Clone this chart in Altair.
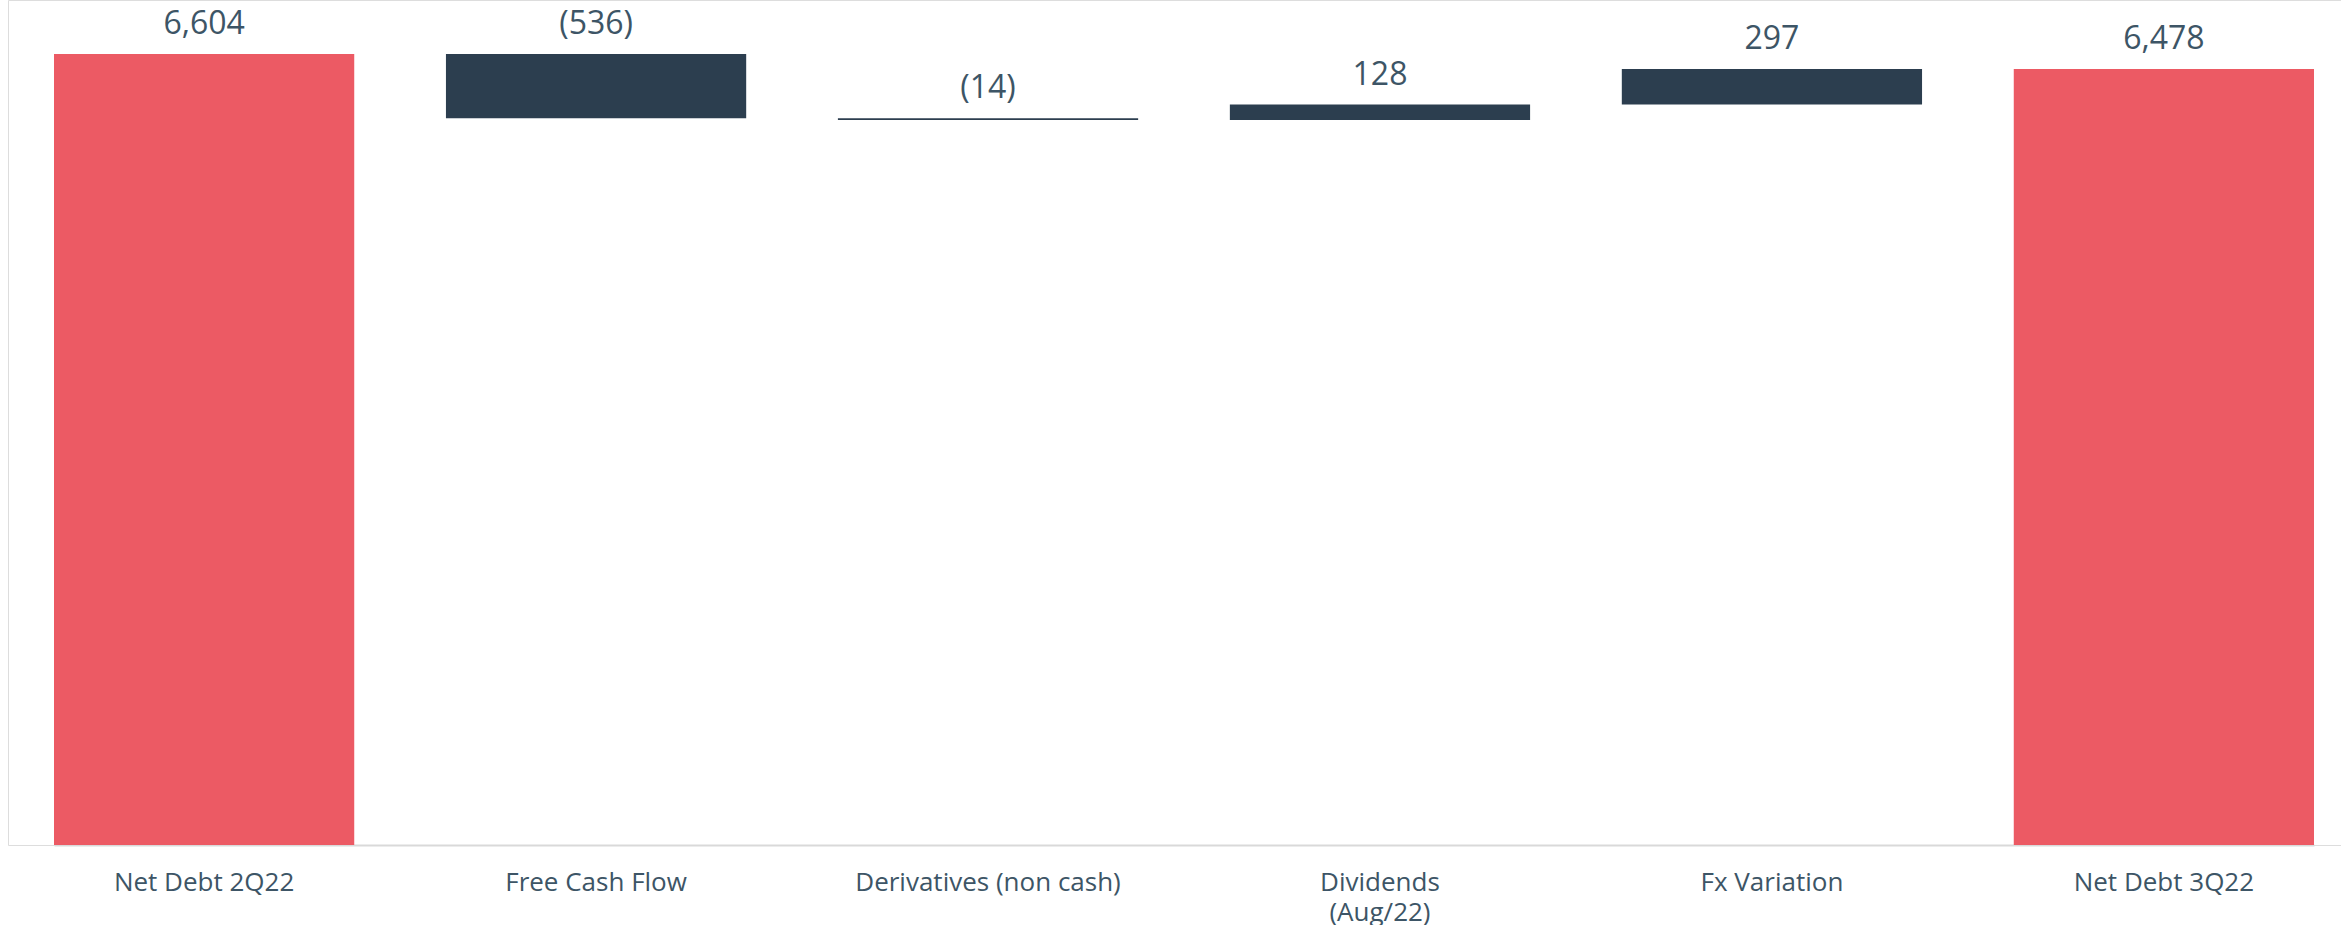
import altair as alt
import pandas as pd

categories = ["Net Debt 2Q22", "Free Cash Flow", "Derivatives (non cash)",
              "Dividends (Aug/22)", "Fx Variation", "Net Debt 3Q22"]
amounts = [6604, -536, -14, 128, 297, 6478]
kinds = ["total", "delta", "delta", "delta", "delta", "total"]
value_labels = ["6,604", "(536)", "(14)", "128", "297", "6,478"]

rows = []
running = 0
for cat, amt, kind, lab in zip(categories, amounts, kinds, value_labels):
    if kind == "total":
        start, end = 0, amt
        running = amt
    else:
        start, end = running, running + amt
        running = end
    rows.append({"cat": cat, "start": start, "end": end, "kind": kind,
                 "label": lab, "top": max(start, end)})
df = pd.DataFrame(rows)

FONT = "Open Sans"
TEXT_COLOR = "#3d5566"

x_enc = alt.X(
    "cat:N", sort=categories, title=None,
    scale=alt.Scale(range=[46, 2306], paddingInner=0.234, paddingOuter=0),
    axis=alt.Axis(
        labelAngle=0, labelFont=FONT, labelFontSize=26, labelColor=TEXT_COLOR,
        labelPadding=24, ticks=False, tickSize=0, domainColor="#d9d9d9",
        domainWidth=2, labelLineHeight=30, labelBaseline="top", labelLimit=0,
        labelExpr="datum.value == 'Dividends (Aug/22)' ? ['Dividends', '(Aug/22)'] : datum.value",
    ),
)
y_scale = alt.Scale(domain=[0, 7055], nice=False, zero=True)

bars = alt.Chart(df).mark_bar().encode(
    x=x_enc,
    y=alt.Y("start:Q", scale=y_scale, axis=None),
    y2="end:Q",
    color=alt.Color("kind:N", scale=alt.Scale(domain=["total", "delta"],
                                              range=["#EC5A64", "#2C3E4F"]),
                    legend=None),
)

texts = alt.Chart(df).mark_text(
    font=FONT, fontSize=32, color=TEXT_COLOR, baseline="bottom", dy=-13
).encode(
    x=alt.X("cat:N", sort=categories),
    y=alt.Y("top:Q", scale=y_scale),
    text="label:N",
)

chart = alt.layer(bars, texts).properties(
    width=2333, height=845,
    padding={"left": 8, "top": 0, "right": 0, "bottom": 0},
).configure_view(strokeWidth=0, stroke="transparent").configure(background="white")

chart.save("out.html", embed_options={"renderer": "svg", "actions": False})
